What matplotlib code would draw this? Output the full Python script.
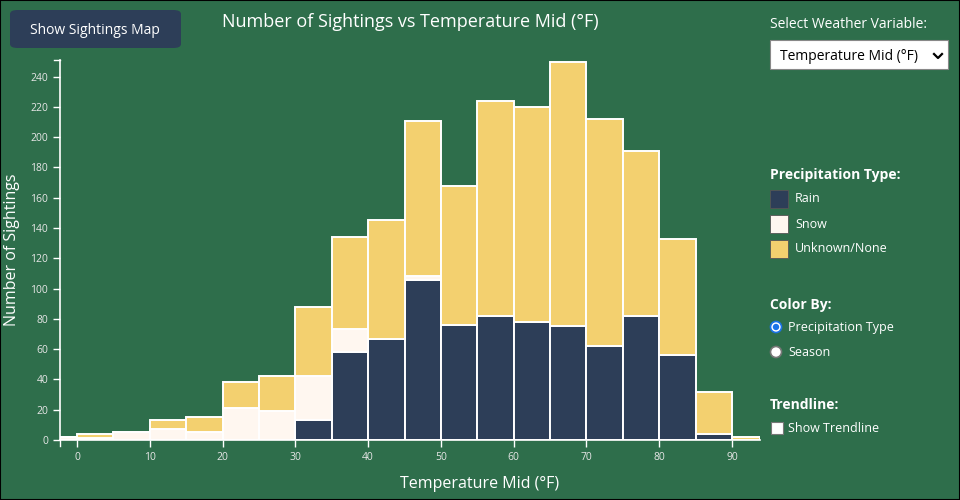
import numpy as np
import matplotlib.pyplot as plt
from matplotlib.patches import FancyBboxPatch, Rectangle, Circle
from matplotlib.lines import Line2D

plt.rcParams['font.family'] = ['Open Sans', 'DejaVu Sans']

# datos (bins de 5 grados, el primero y el ultimo recortados)
bin_left = [-2.34, 0, 5, 10, 15, 20, 25, 30, 35, 40, 45, 50, 55, 60, 65, 70, 75, 80, 85, 90]
bin_right = [0, 5, 10, 15, 20, 25, 30, 35, 40, 45, 50, 55, 60, 65, 70, 75, 80, 85, 90, 93.85]
rain = [0, 0, 0, 0, 0, 0, 0, 13, 58, 67, 106, 76, 82, 78, 75, 62, 82, 56, 4, 0]
snow = [2, 1, 5, 7, 5, 21, 19, 29, 15, 0, 2, 0, 0, 0, 0, 0, 0, 0, 0, 0]
unknown = [0, 3, 0, 6, 10, 17, 23, 46, 61, 78, 103, 92, 142, 142, 175, 150, 109, 77, 28, 2]
series_names = ['Rain', 'Snow', 'Unknown/None']
colores = ['#2d3e58', '#fff7f0', '#f3d06f']

bg = '#2e6e4b'
W, H = 960, 500
DPI = 100

fig = plt.figure(figsize=(9.6, 5), dpi=DPI, facecolor=bg)

def fx(px):
    return px / W

def fy(py):
    return 1 - py / H

ax = fig.add_axes([fx(60), fy(440), fx(700), 380 / H])
ax.set_facecolor(bg)

left = np.array(bin_left)
widths = np.array(bin_right) - left
bottom = np.zeros(len(left))
for vals, c in zip([rain, snow, unknown], colores):
    vals = np.array(vals)
    ax.bar(left, vals, width=widths, bottom=bottom, align='edge', color=c,
           edgecolor='white', linewidth=1.4)
    bottom = bottom + vals

ax.set_xlim(-2.34, 93.85)
ax.set_ylim(0, 251)
ax.set_xticks(np.arange(0, 91, 10))
ax.set_yticks(np.arange(0, 241, 20))
for s in ['top', 'right']:
    ax.spines[s].set_visible(False)
for s in ['left', 'bottom']:
    ax.spines[s].set_color('white')
    ax.spines[s].set_linewidth(1.2)
ax.tick_params(colors='white', labelcolor='#e6e6e6', labelsize=7.5, length=5, width=1)
# ticks exteriores del dominio (estilo d3)
ax.plot([0, 0], [0, -0.016], transform=ax.transAxes, color='white', lw=1, clip_on=False)
ax.plot([0, -0.009], [1, 1], transform=ax.transAxes, color='white', lw=1, clip_on=False)

fig.text(fx(410), fy(22), 'Number of Sightings vs Temperature Mid (°F)', color='white',
         fontsize=13, ha='center', va='center')
fig.text(fx(480), fy(484), 'Temperature Mid (°F)', color='white', fontsize=11.5,
         ha='center', va='center')
fig.text(fx(12), fy(250), 'Number of Sightings', color='white', fontsize=11.5,
         ha='center', va='center', rotation=90)

# boton
fig.patches.append(FancyBboxPatch((fx(10), fy(48)), fx(171), 38 / H,
                                  boxstyle='round,pad=0,rounding_size=0.008',
                                  transform=fig.transFigure, facecolor='#2d3e58',
                                  edgecolor='none'))
fig.text(fx(95), fy(30), 'Show Sightings Map', color='white', fontsize=10,
         ha='center', va='center')

# selector
fig.text(fx(770), fy(25), 'Select Weather Variable:', color='white', fontsize=10,
         ha='left', va='center')
fig.patches.append(Rectangle((fx(770), fy(69)), fx(178), 29 / H, transform=fig.transFigure,
                             facecolor='white', edgecolor='#888888', linewidth=0.8))
fig.text(fx(780), fy(57), 'Temperature Mid (°F)', color='black', fontsize=10,
         ha='left', va='center')
fig.lines.append(Line2D([fx(934), fx(938), fx(942)], [fy(54), fy(58), fy(54)],
                        transform=fig.transFigure, color='black', lw=1.6))

# leyenda
fig.text(fx(770), fy(175), 'Precipitation Type:', color='white', fontsize=10,
         fontweight='bold', ha='left', va='center')
for i, (name, c) in enumerate(zip(series_names, colores)):
    y0 = 190 + i * 25
    fig.patches.append(Rectangle((fx(770), fy(y0 + 18)), fx(18), 18 / H,
                                 transform=fig.transFigure, facecolor=c,
                                 edgecolor='#555555', linewidth=0.6))
    fig.text(fx(795), fy(y0 + 9), name, color='white', fontsize=9, ha='left', va='center')

fig.text(fx(770), fy(305), 'Color By:', color='white', fontsize=10,
         fontweight='bold', ha='left', va='center')
radios = ['Precipitation Type', 'Season']
for i, name in enumerate(radios):
    yc = 327 + i * 25
    centro = (776 / DPI, (H - yc) / DPI)
    fig.patches.append(Circle(centro, 5.5 / DPI, transform=fig.dpi_scale_trans,
                              facecolor='white',
                              edgecolor='#1a73e8' if i == 0 else '#777777', linewidth=1.2))
    if i == 0:
        fig.patches.append(Circle(centro, 3.2 / DPI, transform=fig.dpi_scale_trans,
                                  facecolor='#1a73e8', edgecolor='none'))
    fig.text(fx(788), fy(yc), name, color='white', fontsize=9, ha='left', va='center')

fig.text(fx(770), fy(405), 'Trendline:', color='white', fontsize=10,
         fontweight='bold', ha='left', va='center')
fig.patches.append(Rectangle((fx(771), fy(434)), fx(12), 12 / H, transform=fig.transFigure,
                             facecolor='white', edgecolor='#777777', linewidth=0.8))
fig.text(fx(788), fy(428), 'Show Trendline', color='white', fontsize=9, ha='left', va='center')

# borde
fig.patches.append(Rectangle((0, 0), 1, 1, transform=fig.transFigure, facecolor='none',
                             edgecolor='black', linewidth=1.5))

fig.savefig('out.png', dpi=DPI, facecolor=bg)
